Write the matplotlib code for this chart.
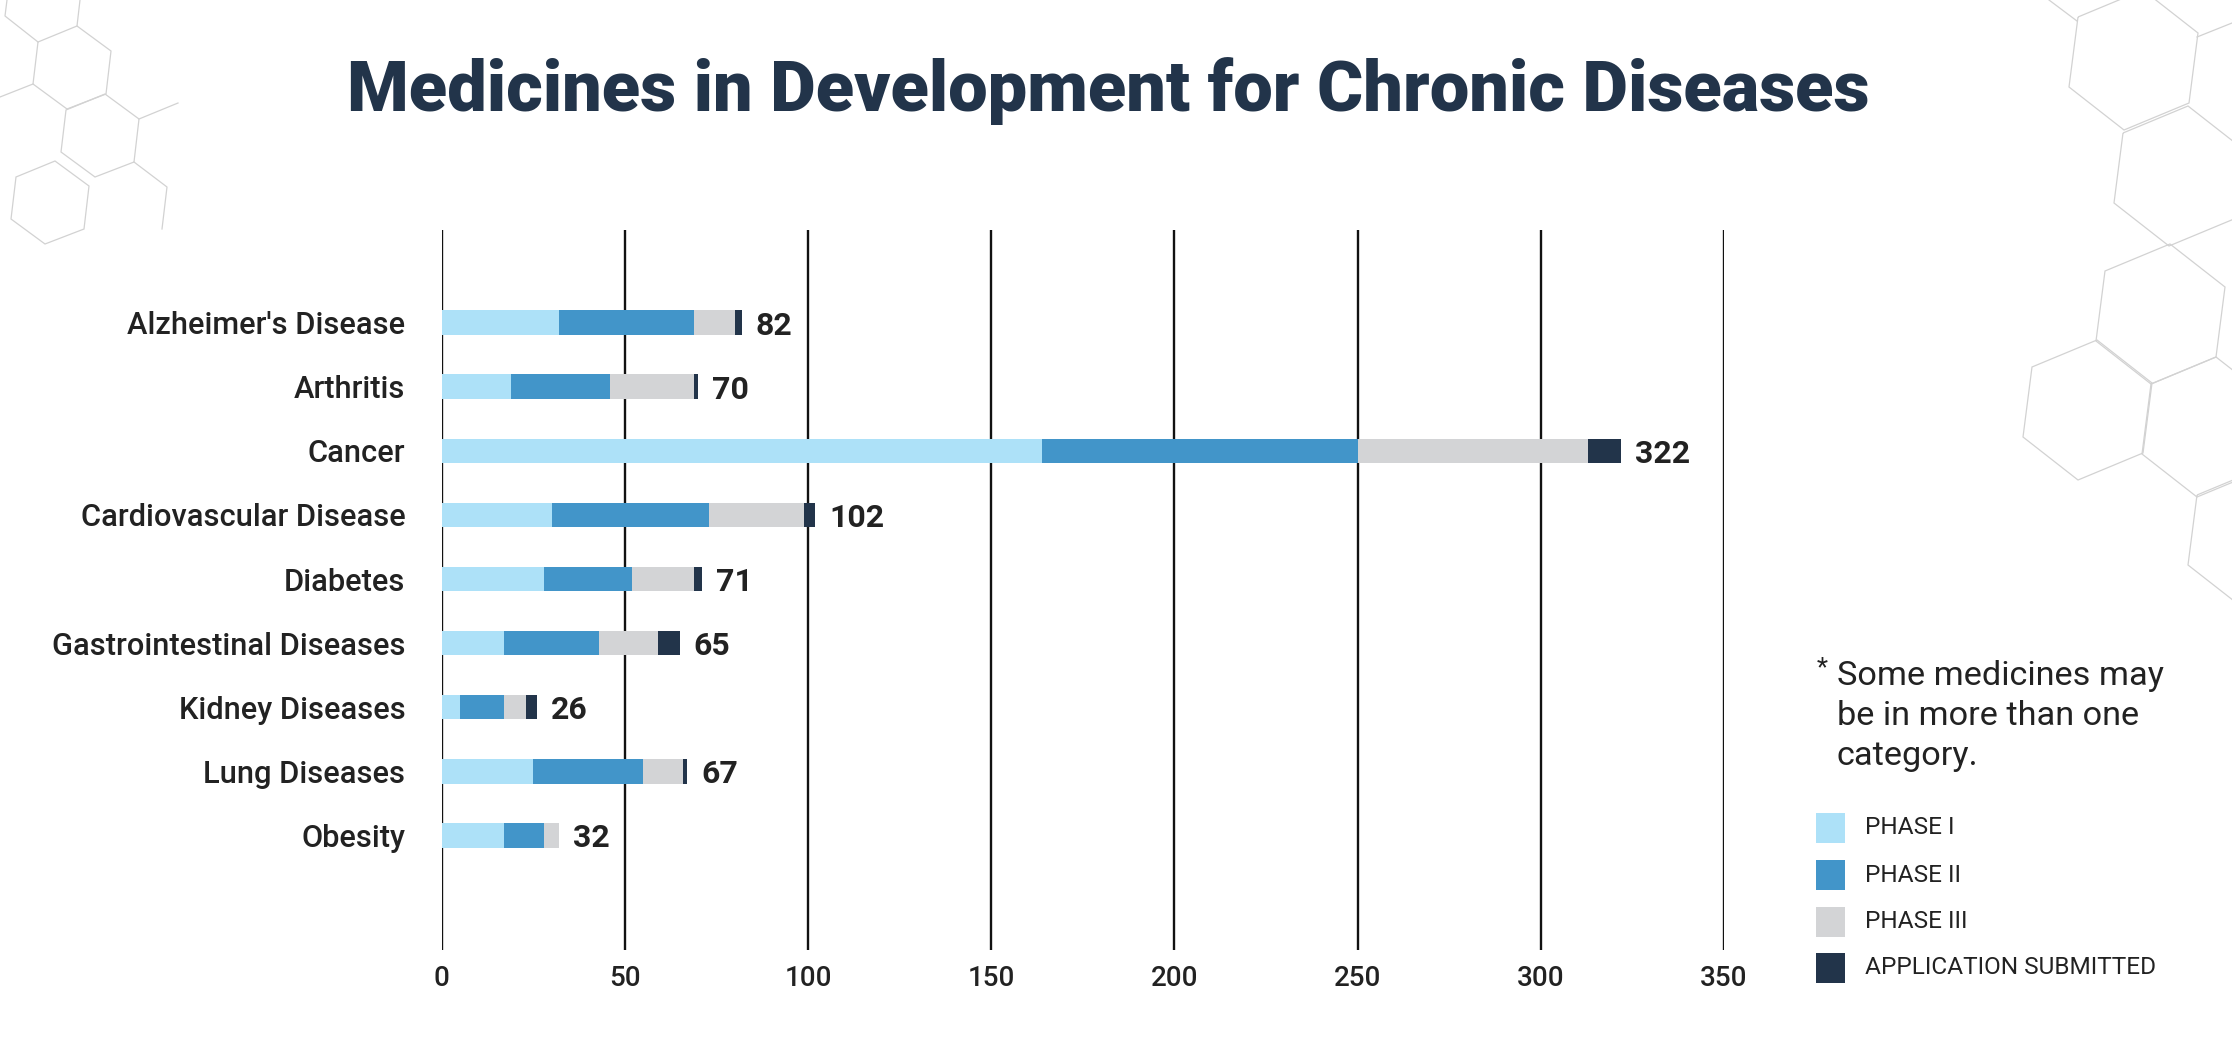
import matplotlib
matplotlib.use("Agg")
import matplotlib.pyplot as plt
from matplotlib.patches import Polygon, Rectangle
import numpy as np

# ---------------- data ----------------
categories = ["Alzheimer's Disease", "Arthritis", "Cancer", "Cardiovascular Disease",
              "Diabetes", "Gastrointestinal Diseases", "Kidney Diseases",
              "Lung Diseases", "Obesity"]
phase1 = [32, 19, 164, 30, 28, 17, 5, 25, 17]
phase2 = [37, 27, 86, 43, 24, 26, 12, 30, 11]
phase3 = [11, 23, 63, 26, 17, 16, 6, 11, 4]
submitted = [2, 1, 9, 3, 2, 6, 3, 1, 0]
totals = [82, 70, 322, 102, 71, 65, 26, 67, 32]
series_names = ["PHASE I", "PHASE II", "PHASE III", "APPLICATION SUBMITTED"]
xticks = [0, 50, 100, 150, 200, 250, 300, 350]
title = "Medicines in Development for Chronic Diseases"
footnote = "Some medicines may\nbe in more than one\ncategory."

colors = ["#ADE1F8", "#4295C9", "#D3D4D6", "#22344A"]
TXT = "#222222"
NAVY = "#22344A"
FAM = ["Roboto", "DejaVu Sans"]

W, H = 2232, 1054
fig = plt.figure(figsize=(W / 100, H / 100), dpi=100)
fig.patch.set_facecolor("white")
renderer = fig.canvas.get_renderer()


def fitted_size(text, width_px, **kw):
    t = fig.text(0, 0, text, fontsize=20, **kw)
    w = t.get_window_extent(renderer).width
    t.remove()
    return 20 * width_px / w


# background overlay in pixel coordinates
bg = fig.add_axes([0, 0, 1, 1], zorder=0)
bg.set_xlim(0, W)
bg.set_ylim(H, 0)
bg.axis("off")

hexc = "#d2d2d2"
small_off = np.array([(-34, -26), (5, -42), (39, -17), (34, 26), (-5, 41), (-39, 16)])
small_centers = [(72, 68), (100, 136), (50, 203)]
big_off = np.array([(-55, -43), (-64, 27), (-9, 70), (56, 43), (65, -27), (10, -70)])
big_centers = [(2133, 60), (2178, 176), (2160, 314), (2087, 410), (2206, 427), (2252, 538)]
for c in small_centers:
    bg.add_patch(Polygon(small_off + np.array(c), closed=True, fill=False,
                         edgecolor=hexc, lw=0.9))
for c in big_centers:
    bg.add_patch(Polygon(big_off + np.array(c), closed=True, fill=False,
                         edgecolor=hexc, lw=0.9))
partials = [[(7, 0), (5, 16), (38, 42)], [(77, 26), (80, 0)], [(33, 84), (0, 97)],
            [(139, 119), (178, 103)], [(134, 162), (167, 187), (162, 229)],
            [(2049, 0), (2077, 21)], [(2197, 37), (2232, 23)]]
for p in partials:
    p = np.array(p)
    bg.plot(p[:, 0], p[:, 1], color=hexc, lw=0.9)

# title
TFAM = ["Roboto", "DejaVu Sans"]
ts = fitted_size(title, 1525, family=TFAM, fontweight="black")
bg.text(1108, 111, title, ha="center", va="baseline", fontsize=ts,
        family=TFAM, fontweight="black", color=NAVY)

# ---------------- main axes ----------------
x0, x1 = 441.6, 1724.0
ytop, ybot = 230, 950
ax = fig.add_axes([x0 / W, 1 - ybot / H, (x1 - x0) / W, (ybot - ytop) / H], zorder=2)
ax.set_facecolor("none")
y = np.arange(len(categories))
left = np.zeros(len(categories))
for vals, col in zip([phase1, phase2, phase3, submitted], colors):
    ax.barh(y, vals, left=left, height=0.38, color=col, zorder=3)
    left = left + np.array(vals)

ax.set_xlim(0, 350)
ax.set_ylim(9.786, -1.443)
ax.set_xticks(xticks)
ax.grid(axis="x", color="#111111", lw=1.7, zorder=0)
ax.set_axisbelow(True)
for s in ax.spines.values():
    s.set_visible(False)

cat_size = fitted_size(categories[0], 278, family=FAM, fontweight="medium")
ax.set_yticks(y)
ax.set_yticklabels(categories, family=FAM, fontweight="medium", fontsize=cat_size, color=TXT)
ax.tick_params(axis="y", length=0, pad=26)
ax.set_xticklabels([str(v) for v in xticks], family=FAM, fontweight="medium",
                   fontsize=20, color=TXT)
ax.tick_params(axis="x", length=0, pad=11)

for i, tot in enumerate(totals):
    ax.annotate(str(tot), xy=(left[i], i), xytext=(10, 0), textcoords="offset points",
                ha="left", va="center_baseline", fontsize=23, fontweight="bold",
                family=FAM, color=TXT, zorder=4)

# ---------------- footnote & legend ----------------
fs = fitted_size("Some medicines may", 326, family=FAM)
bg.text(1817, 675, "*", fontsize=fs * 0.75, family=FAM, color=TXT, va="baseline")
bg.text(1837, 660, footnote, fontsize=fs, family=FAM, color=TXT,
        va="top", linespacing=1.33)

ls = fitted_size(series_names[3], 292, family=FAM)
leg_y = [828, 875, 922, 968]
for name, col, yy in zip(series_names, colors, leg_y):
    bg.add_patch(Rectangle((1816, yy - 15), 29, 30, facecolor=col, edgecolor="none"))
    bg.text(1865, yy, name, fontsize=ls, family=FAM, color=TXT, va="center")

fig.savefig("out.png", dpi=100, facecolor="white")
